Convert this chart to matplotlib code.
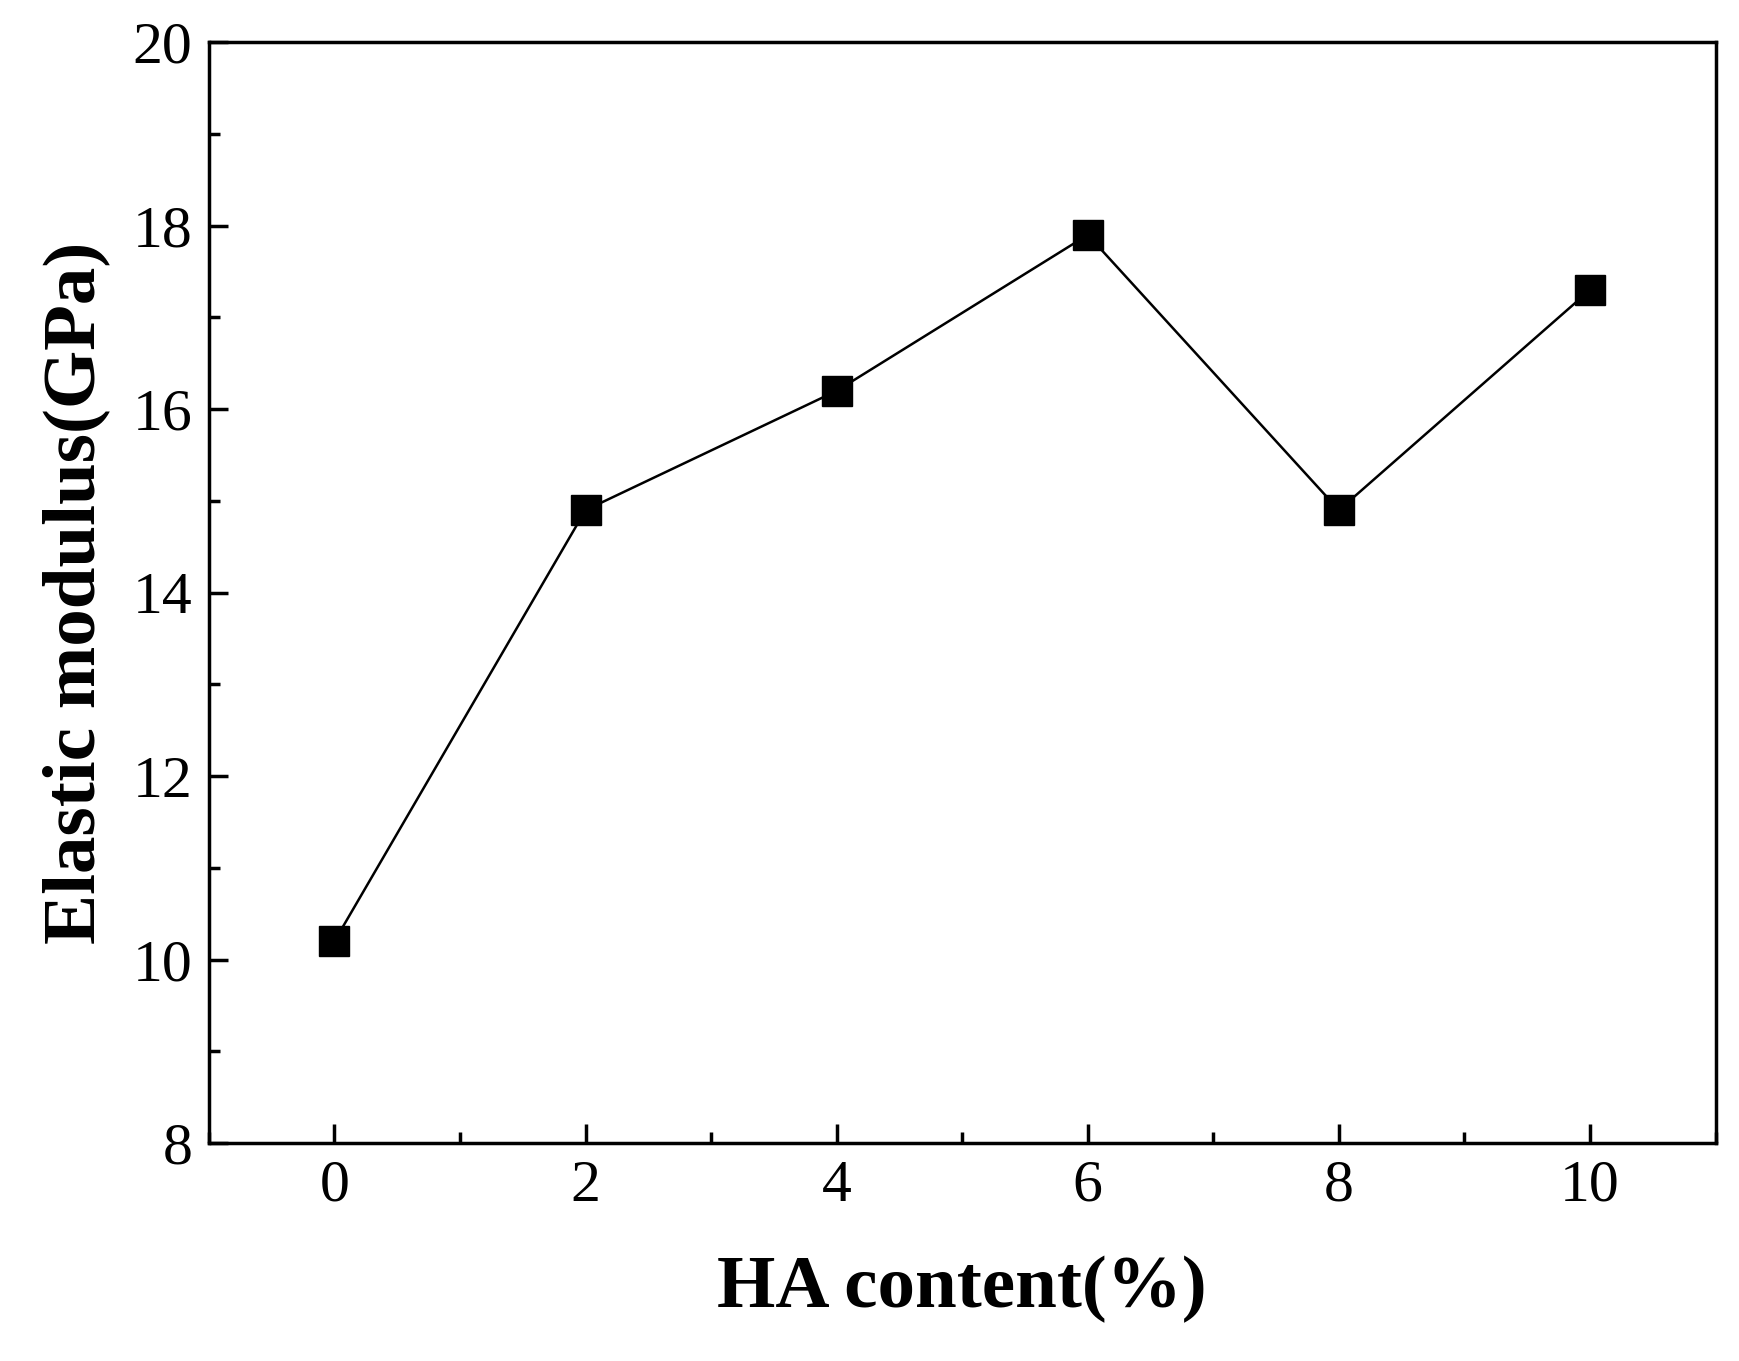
import matplotlib
matplotlib.use("Agg")
import matplotlib.pyplot as plt
from matplotlib.ticker import MultipleLocator

ha = [0, 2, 4, 6, 8, 10]
modulus = [10.2, 14.9, 16.2, 17.9, 14.9, 17.3]

plt.rcParams['font.family'] = ['Liberation Serif', 'DejaVu Serif']
fig = plt.figure(figsize=(17.4, 13.61), dpi=100)
ax = fig.add_axes([0.12, 0.16, 0.866, 0.809])
ax.plot(ha, modulus, color='black', lw=1.8, marker='s', ms=22, mfc='black', mec='black')
ax.set_xlim(-1, 11)
ax.set_ylim(8, 20)
ax.xaxis.set_major_locator(MultipleLocator(2))
ax.xaxis.set_minor_locator(MultipleLocator(1))
ax.yaxis.set_major_locator(MultipleLocator(2))
ax.yaxis.set_minor_locator(MultipleLocator(1))
ax.tick_params(which='both', direction='in', top=False, right=False, width=2.5)
ax.tick_params(which='major', length=14, labelsize=43, pad=12)
ax.tick_params(which='minor', length=8)
for s in ax.spines.values():
    s.set_linewidth(2.5)
ax.set_xlabel('HA content(%)', fontsize=54, fontweight='bold', labelpad=30)
ax.set_ylabel('Elastic modulus(GPa)', fontsize=54, fontweight='bold', labelpad=16)
fig.savefig('out.png', dpi=100)
